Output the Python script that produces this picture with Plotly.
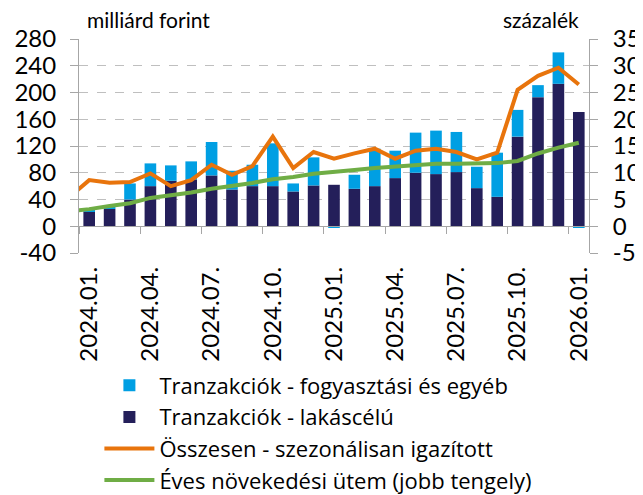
import plotly.graph_objects as go

# ---- data ----
months = ["2023.12.",
          "2024.01.", "2024.02.", "2024.03.", "2024.04.", "2024.05.", "2024.06.",
          "2024.07.", "2024.08.", "2024.09.", "2024.10.", "2024.11.", "2024.12.",
          "2025.01.", "2025.02.", "2025.03.", "2025.04.", "2025.05.", "2025.06.",
          "2025.07.", "2025.08.", "2025.09.", "2025.10.", "2025.11.", "2025.12.",
          "2026.01."]

lakascelu = [None,
             22, 26, 40, 60, 68, 70, 76, 55, 60, 60, 52, 61,
             62, 56, 60, 72, 80, 78, 81, 57, 44, 134, 193, 213,
             171]

fogyasztasi = [None,
               1, 2, 24, 34, 23, 27, 50, 28, 32, 64, 12, 42,
               -1.5, 21, 56, 41, 60, 65, 60, 32, 66, 40, 18, 47,
               -1.5]

osszesen_sa = [43,
               69, 65, 66, 79, 60, 69, 92, 77, 90, 134, 87, 111,
               101, 109, 116, 101, 113, 116, 111, 100, 110, 204, 225, 237,
               212]

eves_utem = [2.8,
             3.2, 3.8, 4.3, 5.3, 5.8, 6.3, 7.0, 7.5, 8.1, 8.8, 9.2, 9.8,
             10.1, 10.5, 10.9, 11.2, 11.5, 11.7, 11.7, 11.7, 11.8, 12.2, 13.6, 14.7,
             15.6]

names = ["Tranzakciók - fogyasztási és egyéb",
         "Tranzakciók - lakáscélú",
         "Összesen - szezonálisan igazított",
         "Éves növekedési ütem (jobb tengely)"]

left_ticks = [-40, 0, 40, 80, 120, 160, 200, 240, 280]
right_ticks = [-5, 0, 5, 10, 15, 20, 25, 30, 35]

# ---- styling ----
NAVY = "#241F5A"
LIGHT = "#009FE3"
ORANGE = "#E8740C"
GREEN = "#6FAD45"
GRID = "#BFBFBF"
AXIS = "#A6A6A6"
FONT = "Lato"
FS = 24

x = list(range(len(months)))
label_idx = list(range(1, len(months), 3))
boundary_ticks = [i - 0.5 for i in label_idx]
xrange = [0.5, len(months) - 0.5]

fig = go.Figure()
fig.add_bar(x=x, y=lakascelu, name=names[1], marker_color=NAVY,
            marker_line_width=0, legendrank=2)
fig.add_bar(x=x, y=fogyasztasi, name=names[0], marker_color=LIGHT,
            marker_line_width=0, legendrank=1)
fig.add_scatter(x=x, y=osszesen_sa, name=names[2], mode="lines",
                line=dict(color=ORANGE, width=4), legendrank=3)
fig.add_scatter(x=x, y=eves_utem, name=names[3], mode="lines",
                line=dict(color=GREEN, width=4), legendrank=4,
                xaxis="x2", yaxis="y2")

# the page body adds an 8px offset, so the figure is 8px smaller than the window
fig.update_layout(
    width=635, height=487,
    margin=dict(l=71, r=54, t=31, b=242, autoexpand=False),
    paper_bgcolor="white", plot_bgcolor="white",
    font=dict(family=FONT, size=FS, color="black"),
    barmode="relative", bargap=0.43,
    showlegend=True,
    legend=dict(x=0.04, y=-0.521, xanchor="left", yanchor="top",
                font=dict(family="Open Sans", size=22), tracegroupgap=0,
                itemwidth=50, bgcolor="rgba(0,0,0,0)"),
    xaxis=dict(range=xrange, tickmode="array", tickvals=label_idx,
               ticktext=[months[i] for i in label_idx], tickangle=-90,
               showgrid=False, zeroline=False, showline=False, ticks="",
               ticklabelstandoff=8, tickfont=dict(size=FS)),
    xaxis2=dict(range=xrange, overlaying="x", anchor="free", position=40 / 320,
                tickmode="array", tickvals=boundary_ticks, showticklabels=False,
                ticks="outside", ticklen=7, tickcolor=AXIS, showline=True,
                linecolor=AXIS, linewidth=1, showgrid=False, zeroline=False),
    yaxis=dict(range=[-40, 280], tickmode="array", tickvals=left_ticks,
               ticktext=[str(v) for v in left_ticks],
               showgrid=True, gridcolor=GRID, griddash="dash", gridwidth=1,
               zeroline=False, showline=True, linecolor=AXIS, linewidth=1,
               ticks="outside", ticklen=8, tickcolor=AXIS,
               ticklabelstandoff=9, tickfont=dict(size=FS)),
    yaxis2=dict(range=[-5, 35], tickmode="array", tickvals=right_ticks,
                ticktext=[str(v) for v in right_ticks],
                overlaying="y", side="right", anchor="x",
                showgrid=False, zeroline=False, showline=True, linecolor=AXIS,
                linewidth=1, ticks="outside", ticklen=8, tickcolor=AXIS,
                ticklabelstandoff=10, tickfont=dict(size=FS)),
    annotations=[
        dict(text="milliárd forint", xref="paper", yref="paper", x=0.011, y=1.09,
             xanchor="left", yanchor="middle", showarrow=False, font=dict(size=21)),
        dict(text="százalék", xref="paper", yref="paper", x=0.985, y=1.09,
             xanchor="right", yanchor="middle", showarrow=False, font=dict(size=21)),
    ],
)

fig.write_html("out.html")
